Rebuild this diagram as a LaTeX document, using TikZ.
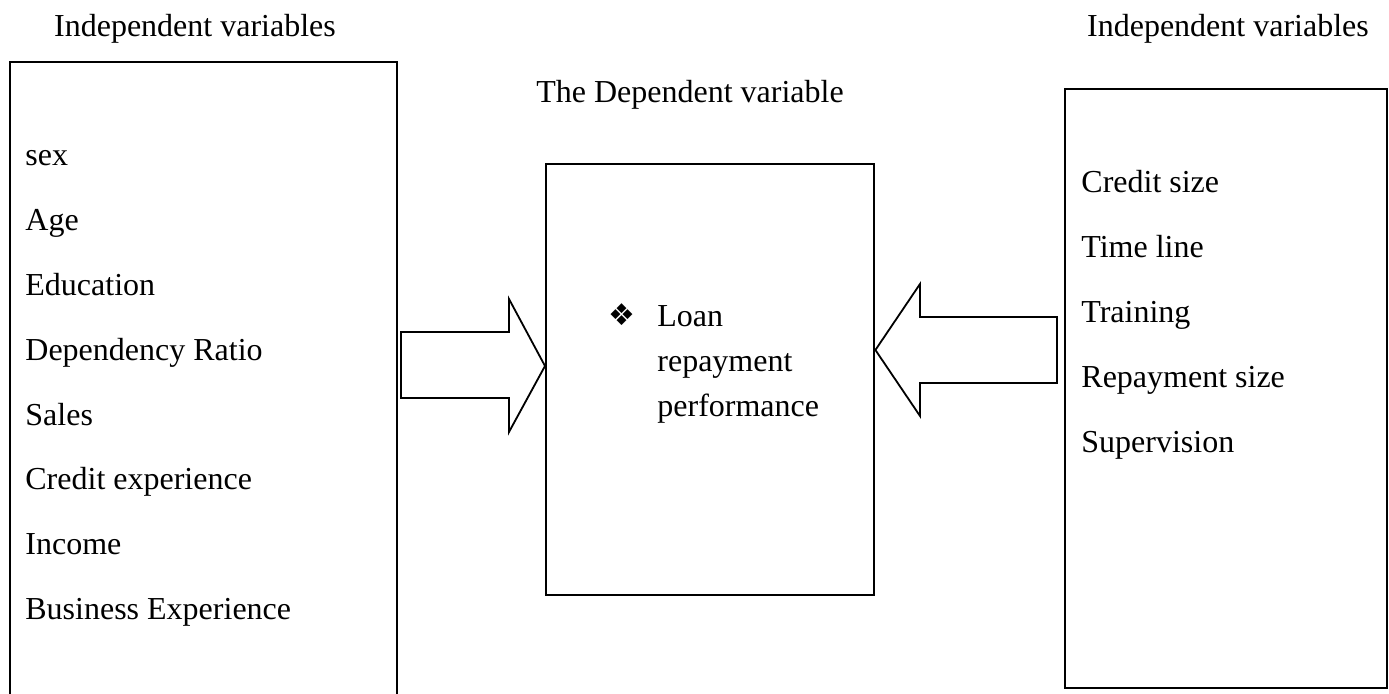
\documentclass[tikz,border=0pt]{standalone}
\usepackage{fontspec}
\setmainfont{Liberation Serif}
\newfontfamily\dejavu{DejaVu Sans}
\begin{document}
\begin{tikzpicture}[x=0.5pt,y=-0.5pt,
  lbl/.style={anchor=base west, inner sep=0pt, font=\fontsize{16}{19}\selectfont},
  hdr/.style={anchor=base, inner sep=0pt, font=\fontsize{16}{19}\selectfont},
  boxline/.style={draw=black, line width=1.2pt},
  arrowshape/.style={draw=black, line width=0.9pt, line join=miter}]
\useasboundingbox (0,0) rectangle (1389,694);
% headers
\node[hdr] (hl) at (195,37) {Independent variables};
\node[hdr] (hr) at (1228,37) {Independent variables};
\node[hdr] (hm) at (690,103) {The Dependent variable};
% boxes
\draw[boxline] (10,720) -- (10,62) -- (397,62) -- (397,720);
\node[boxline, minimum width=328*0.5pt, minimum height=431*0.5pt, inner sep=0pt, anchor=north west] (mid) at (545,163) {};
\node[boxline, minimum width=322*0.5pt, minimum height=599*0.5pt, inner sep=0pt, anchor=north west] (rbox) at (1064,88) {};
% left items
\node[lbl] (l1) at (25,166) {sex};
\node[lbl] (l2) at (25,231) {Age};
\node[lbl] (l3) at (25,296) {Education};
\node[lbl] (l4) at (25,361) {Dependency Ratio};
\node[lbl] (l5) at (25,426) {Sales};
\node[lbl] (l6) at (25,490) {Credit experience};
\node[lbl] (l7) at (25,555) {Income};
\node[lbl] (l8) at (25,620) {Business Experience};
% right items
\node[lbl] (r1) at (1081,193) {Credit size};
\node[lbl] (r2) at (1081,258) {Time line};
\node[lbl] (r3) at (1081,323) {Training};
\node[lbl] (r4) at (1081,388) {Repayment size};
\node[lbl] (r5) at (1081,453) {Supervision};
% middle text
\node[anchor=center, inner sep=0pt, font=\dejavu\fontsize{15}{17}\selectfont] (bul) at (622,315) {❖};
\node[lbl] (m1) at (657,327) {Loan};
\node[lbl] (m2) at (657,372) {repayment};
\node[lbl] (m3) at (657,417) {performance};
% arrows
\draw[arrowshape] (401,332) -- (509,332) -- (509,299) -- (mid.west |- 0,366) -- (509,432) -- (509,398) -- (401,398) -- cycle;
\draw[arrowshape] (1057,317) -- (920,317) -- (920,284) -- (mid.east |- 0,350) -- (920,416) -- (920,383) -- (1057,383) -- cycle;
\end{tikzpicture}
\end{document}
